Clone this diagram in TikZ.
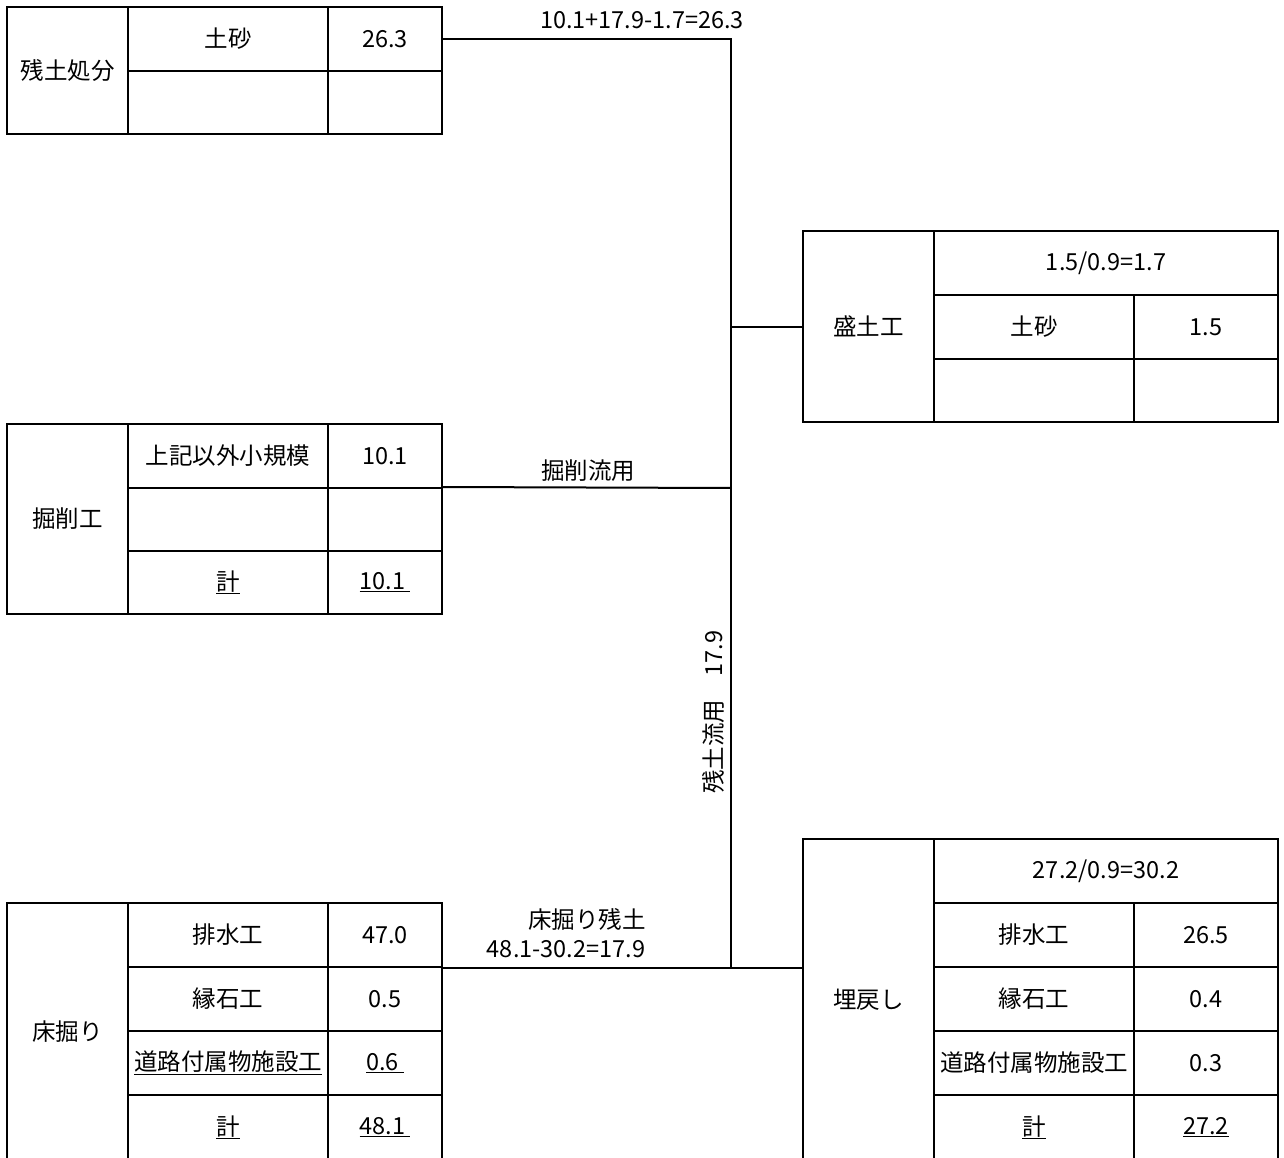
\documentclass[tikz,border=0pt]{standalone}
\usepackage{fontspec}
\setmainfont{Noto Sans CJK JP}
\newcommand\cellb[6]{\node[cell, minimum width={(#4-#2)*1pt}, minimum height={(#5-#3)*1pt}] (#1) at ({(#2+#4)/2},{(#3+#5)/2}) {#6};}
\begin{document}
\begin{tikzpicture}[x=1pt,y=-1pt,
  cell/.style={draw, line width=2pt, inner sep=0pt, font=\fontsize{23.5}{28}\selectfont},
  lbl/.style={inner sep=0pt, font=\fontsize{23.5}{28}\selectfont},
  conn/.style={line width=2pt}]
\useasboundingbox (0,0) rectangle (1284,1158);
\clip (0,0) rectangle (1284,1158);
\fill[white] (0,0) rectangle (1284,1158);

% 残土処分
\cellb{zd-h}{7}{7}{128}{134}{残土処分}
\cellb{zd-n1}{128}{7}{328}{71}{土砂}
\cellb{zd-v1}{328}{7}{442}{71}{26.3}
\cellb{zd-n2}{128}{71}{328}{134}{}
\cellb{zd-v2}{328}{71}{442}{134}{}

% 盛土工
\cellb{mo-h}{803}{231}{934}{422}{盛土工}
\cellb{mo-f}{934}{231}{1278}{295}{1.5/0.9=1.7}
\cellb{mo-n1}{934}{295}{1134}{359}{土砂}
\cellb{mo-v1}{1134}{295}{1278}{359}{1.5}
\cellb{mo-n2}{934}{359}{1134}{422}{}
\cellb{mo-v2}{1134}{359}{1278}{422}{}

% 掘削工
\cellb{ku-h}{7}{424}{128}{614}{掘削工}
\cellb{ku-n1}{128}{424}{328}{488}{上記以外小規模}
\cellb{ku-v1}{328}{424}{442}{488}{10.1}
\cellb{ku-n2}{128}{488}{328}{551}{}
\cellb{ku-v2}{328}{488}{442}{551}{}
\cellb{ku-n3}{128}{551}{328}{614}{\underline{計}}
\cellb{ku-v3}{328}{551}{442}{614}{\underline{10.1\ }}

% 床掘り
\cellb{tk-h}{7}{903}{128}{1160}{床掘り}
\cellb{tk-n1}{128}{903}{328}{967}{排水工}
\cellb{tk-v1}{328}{903}{442}{967}{47.0}
\cellb{tk-n2}{128}{967}{328}{1031}{縁石工}
\cellb{tk-v2}{328}{967}{442}{1031}{0.5}
\cellb{tk-n3}{128}{1031}{328}{1095}{\underline{道路付属物施設工}}
\cellb{tk-v3}{328}{1031}{442}{1095}{\underline{0.6\ }}
\cellb{tk-n4}{128}{1095}{328}{1160}{\underline{計}}
\cellb{tk-v4}{328}{1095}{442}{1160}{\underline{48.1\ }}

% 埋戻し
\cellb{um-h}{803}{839}{934}{1160}{埋戻し}
\cellb{um-f}{934}{839}{1278}{903}{27.2/0.9=30.2}
\cellb{um-n1}{934}{903}{1134}{967}{排水工}
\cellb{um-v1}{1134}{903}{1278}{967}{26.5}
\cellb{um-n2}{934}{967}{1134}{1031}{縁石工}
\cellb{um-v2}{1134}{967}{1278}{1031}{0.4}
\cellb{um-n3}{934}{1031}{1134}{1095}{道路付属物施設工}
\cellb{um-v3}{1134}{1031}{1278}{1095}{0.3}
\cellb{um-n4}{934}{1095}{1134}{1160}{\underline{計}}
\cellb{um-v4}{1134}{1095}{1278}{1160}{\underline{27.2}}

% junctions
\coordinate (j1) at (731,39);
\coordinate (j2) at (731,326.5);
\coordinate (j3) at (731,488);
\coordinate (j4) at (731,967);

% connectors
\draw[conn] (zd-v1.east) -- (j1) -- (j4);
\draw[conn] (j2) -- (mo-h.west);
\draw[conn] (ku-v2.north east) -- (j3);
\draw[conn] (tk-v1.south east) -- (um-h.west |- tk-v1.south east);

% labels
\node[lbl] (l1) at (642,20) {10.1+17.9-1.7=26.3};
\node[lbl] (l2) at (588,471) {掘削流用};
\node[lbl] (l3) at (587,919) {床掘り残土};
\node[lbl] (l4) at (566,949) {48.1-30.2=17.9};
\node[lbl, rotate=90] (l5) at (713,712) {残土流用　17.9};
\end{tikzpicture}
\end{document}
